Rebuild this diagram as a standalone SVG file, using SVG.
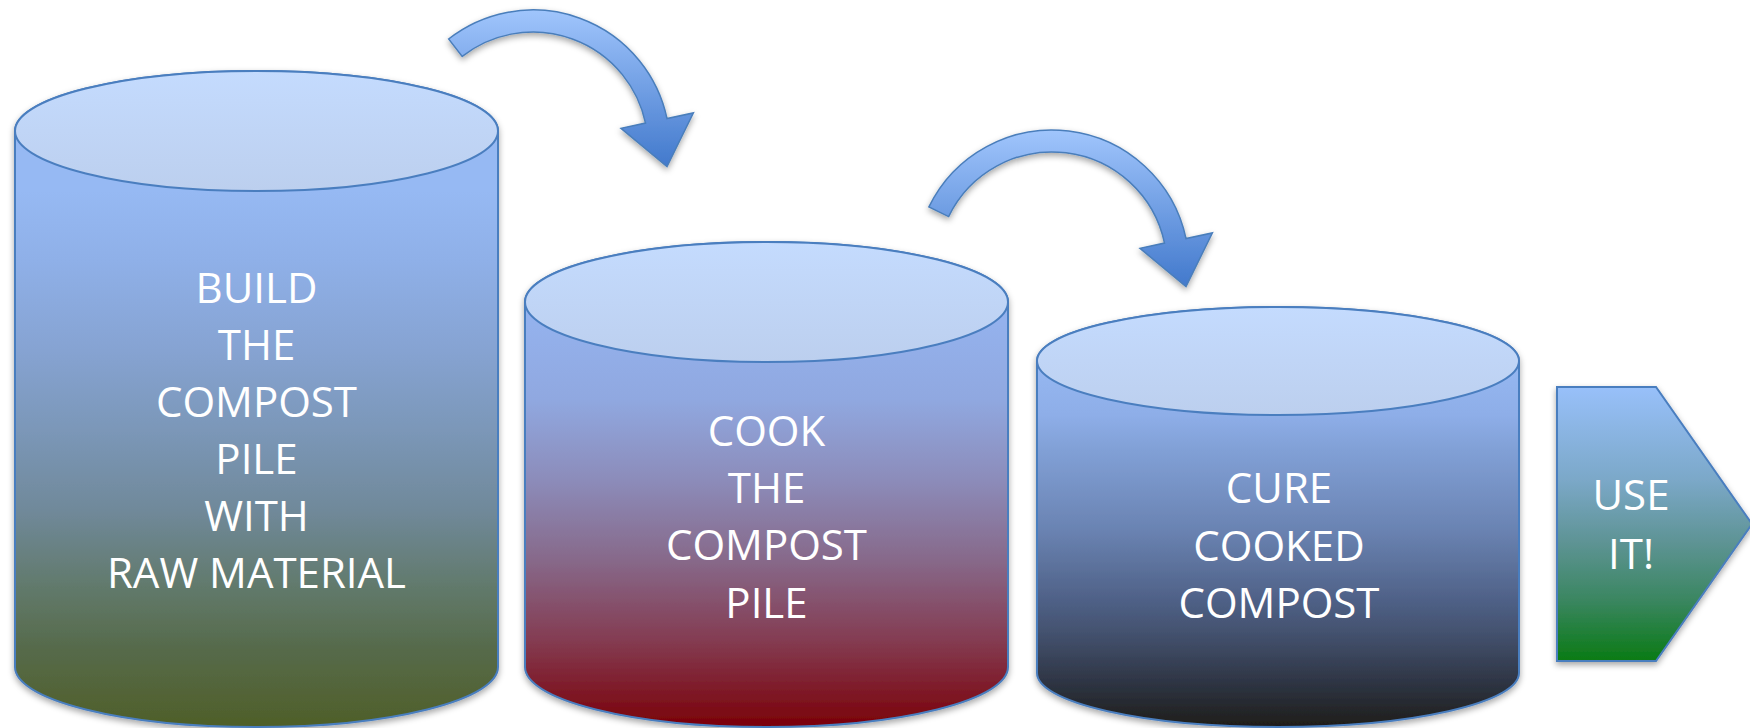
<svg xmlns="http://www.w3.org/2000/svg" width="1750" height="728" viewBox="0 0 1750 728">
  <defs>
    <style>
      .body { stroke: #4a7ebf; stroke-width: 2; }
      .cap { fill: url(#capFill); stroke: #4a7ebf; stroke-width: 2; }
      .label { font-family: "Open Sans", "Liberation Sans", sans-serif; font-size: 42px; fill: #ffffff; text-anchor: middle; }
      .curve { fill: url(#arrowFill); stroke: #4a7ebb; stroke-width: 1.5; stroke-linejoin: miter; }
    </style>
    <filter id="shadow" x="-5%" y="-5%" width="110%" height="115%">
      <feDropShadow dx="0" dy="3" stdDeviation="3" flood-color="#000000" flood-opacity="0.35"/>
    </filter>
    <linearGradient id="capFill" x1="0" y1="0" x2="0" y2="1">
      <stop offset="0" stop-color="#c4dbfe"/>
      <stop offset="1" stop-color="#bccfee"/>
    </linearGradient>
    <linearGradient id="arrowFill" x1="0" y1="0" x2="0" y2="1">
      <stop offset="0" stop-color="#a0c5fc"/>
      <stop offset="1" stop-color="#4279cc"/>
    </linearGradient>
    <!-- blue to olive green -->
    <linearGradient id="buildFill" gradientUnits="userSpaceOnUse" x1="0" y1="0" x2="0" y2="728">
      <stop offset="0.262" stop-color="#96b9f3"/>
      <stop offset="0.357" stop-color="#8fb0e8"/>
      <stop offset="0.481" stop-color="#86a3d2"/>
      <stop offset="0.591" stop-color="#7b97b8"/>
      <stop offset="0.701" stop-color="#70899a"/>
      <stop offset="0.810" stop-color="#61796a"/>
      <stop offset="0.893" stop-color="#566a4a"/>
      <stop offset="1" stop-color="#4f5f28"/>
    </linearGradient>
    <!-- blue to dark red -->
    <linearGradient id="cookFill" gradientUnits="userSpaceOnUse" x1="0" y1="0" x2="0" y2="728">
      <stop offset="0.413" stop-color="#95b4f0"/>
      <stop offset="0.549" stop-color="#90a8e0"/>
      <stop offset="0.659" stop-color="#8c8cba"/>
      <stop offset="0.769" stop-color="#87698a"/>
      <stop offset="0.879" stop-color="#843c52"/>
      <stop offset="1" stop-color="#7a0008"/>
    </linearGradient>
    <!-- blue to near black -->
    <linearGradient id="cureFill" gradientUnits="userSpaceOnUse" x1="0" y1="0" x2="0" y2="728">
      <stop offset="0.496" stop-color="#96b8f2"/>
      <stop offset="0.570" stop-color="#8eaee8"/>
      <stop offset="0.618" stop-color="#81a0d6"/>
      <stop offset="0.728" stop-color="#6a83b2"/>
      <stop offset="0.824" stop-color="#4f6187"/>
      <stop offset="0.879" stop-color="#414e69"/>
      <stop offset="0.934" stop-color="#2f3646"/>
      <stop offset="1" stop-color="#1e1d19"/>
    </linearGradient>
    <!-- blue to green -->
    <linearGradient id="useFill" x1="0" y1="0" x2="0" y2="1">
      <stop offset="0" stop-color="#98c0fa"/>
      <stop offset="0.34" stop-color="#7ba8c8"/>
      <stop offset="0.56" stop-color="#5f9496"/>
      <stop offset="0.78" stop-color="#3a8660"/>
      <stop offset="1" stop-color="#0a7a14"/>
    </linearGradient>
  </defs>

  <rect width="1750" height="728" fill="#ffffff"/>

  <!-- curved arrows between the stages -->
  <g id="connectors" filter="url(#shadow)">
    <path id="arrow-build-cook" class="curve" d="M 448.6,39 A 137 137 0 0 1 667,118.5 L 693.4,112.9 L 667,166.6 L 621,128.3 L 645.5,123.1 A 115 115 0 0 0 462.2,56.4 Z"/>
    <path id="arrow-cook-cure" class="curve" d="M 928.9,206.9 A 137 137 0 0 1 1186,238.5 L 1212.4,232.9 L 1186,286.6 L 1140,248.3 L 1164.5,243.1 A 115 115 0 0 0 948.6,216.6 Z"/>
  </g>

  <!-- stage 1 -->
  <g id="build">
    <path class="body" fill="url(#buildFill)" filter="url(#shadow)" d="M 15,131 V 667 A 241.5 60 0 0 0 498,667 V 131 A 241.5 60 0 0 0 15,131 Z"/>
    <ellipse class="cap" cx="256.5" cy="131" rx="241.5" ry="60"/>
    <text class="label" x="256.5" y="302.7">BUILD</text>
    <text class="label" x="256.5" y="359.8">THE</text>
    <text class="label" x="256.5" y="416.9">COMPOST</text>
    <text class="label" x="256.5" y="474">PILE</text>
    <text class="label" x="256.5" y="531.1">WITH</text>
    <text class="label" x="256.5" y="588.2">RAW MATERIAL</text>
  </g>

  <!-- stage 2 -->
  <g id="cook">
    <path class="body" fill="url(#cookFill)" filter="url(#shadow)" d="M 525,302 V 667 A 241.5 60 0 0 0 1008,667 V 302 A 241.5 60 0 0 0 525,302 Z"/>
    <ellipse class="cap" cx="766.5" cy="302" rx="241.5" ry="60"/>
    <text class="label" x="766.5" y="445.7">COOK</text>
    <text class="label" x="766.5" y="503">THE</text>
    <text class="label" x="766.5" y="560.3">COMPOST</text>
    <text class="label" x="766.5" y="617.6">PILE</text>
  </g>

  <!-- stage 3 -->
  <g id="cure">
    <path class="body" fill="url(#cureFill)" filter="url(#shadow)" d="M 1037,361 V 673 A 241 54 0 0 0 1519,673 V 361 A 241 54 0 0 0 1037,361 Z"/>
    <ellipse class="cap" cx="1278" cy="361" rx="241" ry="54"/>
    <text class="label" x="1279" y="503.3">CURE</text>
    <text class="label" x="1279" y="560.7">COOKED</text>
    <text class="label" x="1279" y="618.3">COMPOST</text>
  </g>

  <!-- final step -->
  <g id="use">
    <path class="body" fill="url(#useFill)" filter="url(#shadow)" d="M 1557,387 H 1656 L 1752,524 L 1656,661 H 1557 Z"/>
    <text class="label" x="1631" y="510">USE</text>
    <text class="label" x="1631" y="569">IT!</text>
  </g>
</svg>
